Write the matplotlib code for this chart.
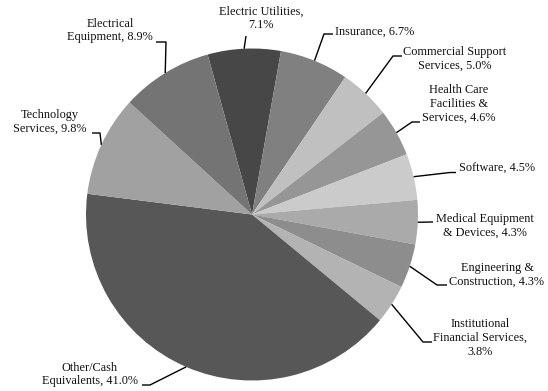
#!/usr/bin/env python3
"""Sector allocation pie with elbow leader labels."""
import matplotlib
matplotlib.use("Agg")
import matplotlib.pyplot as plt
import numpy as np

# sector names (line breaks as laid out), weights in %, and whether the % wraps
sectors = ["Electric Utilities", "Insurance", "Commercial Support\nServices",
           "Health Care\nFacilities &\nServices", "Software",
           "Medical Equipment\n& Devices", "Engineering &\nConstruction",
           "Institutional\nFinancial Services", "Other/Cash\nEquivalents",
           "Technology\nServices", "Electrical\nEquipment"]
weights = [7.1, 6.7, 5.0, 4.6, 4.5, 4.3, 4.3, 3.8, 41.0, 9.8, 8.9]
pct_wrap = [True, False, False, False, False, False, False, True, False, False, False]
colors = ["#474747", "#808080", "#c0c0c0", "#969696", "#cbcbcb", "#aaaaaa",
          "#8d8d8d", "#b3b3b3", "#575757", "#a1a1a1", "#747474"]

W, H = 548, 391
CX, CY, R = 252, 214.5, 166   # pie centre / radius in pixels


def px(x, y):
    """pixel (top-left origin) -> data units where the pie has radius 1"""
    return (x - CX) / R, (CY - y) / R


# label placement: text anchor (px), horizontal alignment, leader bend points (px)
label_layout = [
    ((261, 18.5), "center", [(246, 36)]),
    ((335, 32), "left", [(324, 34), (333, 34)]),
    ((455, 59), "center", [(393, 56), (402, 56)]),
    ((459, 104), "center", [(412, 122), (420, 122)]),
    ((459, 169), "left", [(450, 172.5), (456, 172.5)]),
    ((485, 225.5), "center", [(433, 222)]),
    ((497, 274.5), "center", [(437, 285), (447, 285)]),
    ((480, 338), "center", [(423, 342), (432, 342)]),
    ((90, 374.5), "center", [(150, 385), (142, 385)]),
    ((50, 122), "center", [(100, 133), (92, 133)]),
    ((110, 30.5), "center", [(166, 42), (156, 42)]),
]

plt.rcParams["font.family"] = ["Liberation Serif", "DejaVu Serif"]

fig = plt.figure(figsize=(W / 100, H / 100), dpi=100)
ax = fig.add_axes([0, 0, 1, 1])
wedges, _ = ax.pie(weights, colors=colors, startangle=105.5, counterclock=False,
                   radius=1, center=(0, 0), wedgeprops=dict(linewidth=0))
x0, y1 = px(0, 0)
x1, y0 = px(W, H)
ax.set_xlim(x0, x1)
ax.set_ylim(y0, y1)
ax.axis("off")

for w, name, v, wrap, (tpos, ha, bends) in zip(wedges, sectors, weights, pct_wrap, label_layout):
    text = f"{name},\n{v:.1f}%" if wrap else f"{name}, {v:.1f}%"
    mid = np.deg2rad((w.theta1 + w.theta2) / 2)
    pts = [(np.cos(mid), np.sin(mid))] + [px(*b) for b in bends]
    xs, ys = zip(*pts)
    ax.plot(xs, ys, color="black", lw=1.0, solid_capstyle="butt")
    tx, ty = px(*tpos)
    ax.text(tx, ty, text, ha=ha, va="center", multialignment="center",
            fontsize=8.8, color="#111111", linespacing=1.22)

fig.savefig("out.png", dpi=100)
